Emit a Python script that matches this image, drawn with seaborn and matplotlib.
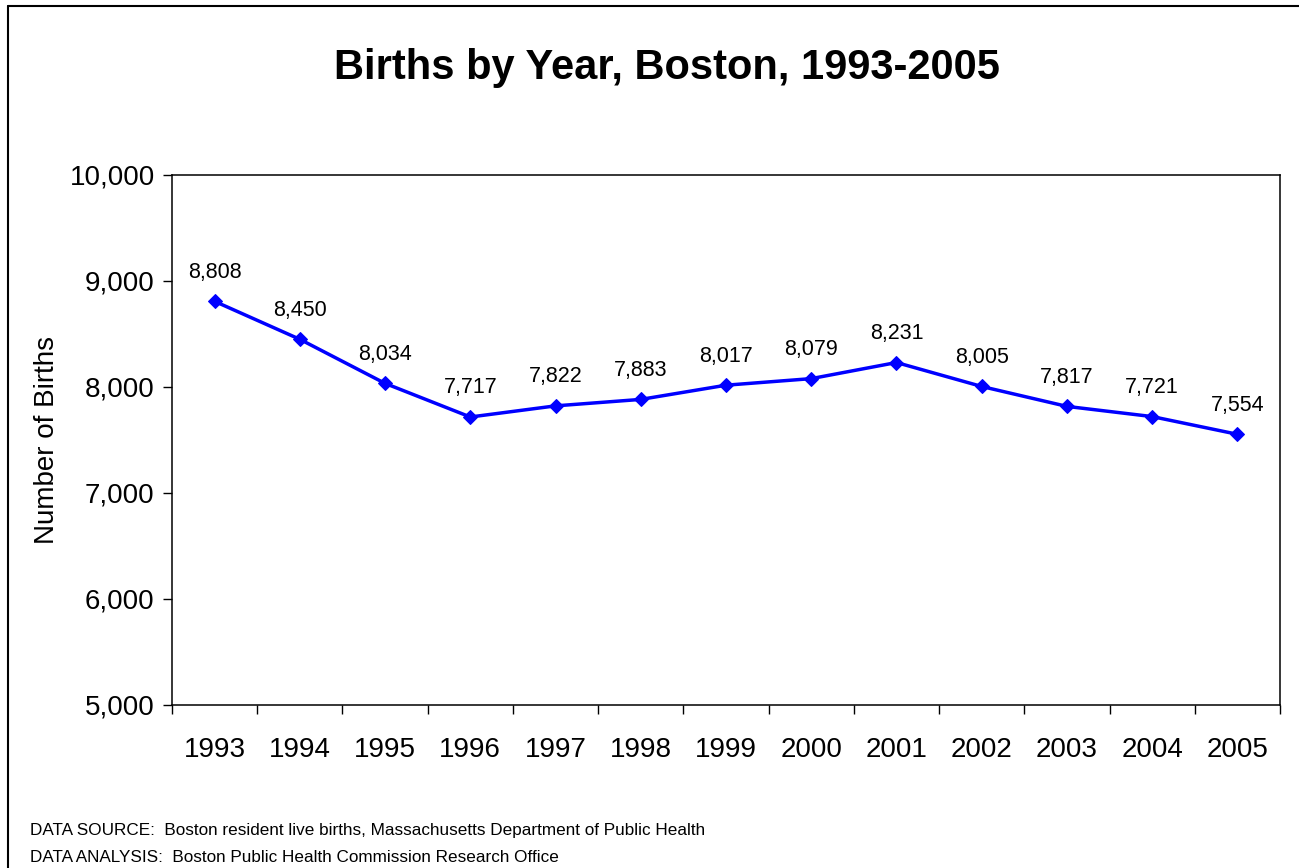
import pandas as pd
import matplotlib.pyplot as plt
from matplotlib.lines import Line2D
from matplotlib.ticker import FuncFormatter, FixedLocator
import seaborn as sns

years = ["1993", "1994", "1995", "1996", "1997", "1998", "1999",
         "2000", "2001", "2002", "2003", "2004", "2005"]
births = [8808, 8450, 8034, 7717, 7822, 7883, 8017, 8079, 8231, 8005, 7817, 7721, 7554]

dataFrame = pd.DataFrame({"Year": years, "Births": births})

sns.set_style("white")
plt.rcParams["font.family"] = ["Liberation Sans", "DejaVu Sans"]
plt.rcParams["text.color"] = "black"
plt.rcParams["axes.labelcolor"] = "black"
plt.rcParams["xtick.color"] = "black"
plt.rcParams["ytick.color"] = "black"

fig = plt.figure(figsize=(12.99, 8.68), dpi=100)
ax = fig.add_axes([172 / 1299, 1 - 705 / 868, 1108 / 1299, 530 / 868])

sns.lineplot(data=dataFrame, x="Year", y="Births", ax=ax, color="#0000FF",
             linewidth=2.5, marker="D", markersize=7, markeredgecolor="#0000FF")

# data labels
for i, v in enumerate(births):
    ax.annotate(f"{v:,}", (i, v), xytext=(0, 29), textcoords="offset pixels",
                ha="center", va="center", fontsize=15.5, color="black")

ax.set_xlim(-0.5, len(years) - 0.5)
ax.set_ylim(5000, 10000)
ax.set_yticks(range(5000, 10001, 1000))
ax.yaxis.set_major_formatter(FuncFormatter(lambda v, p: f"{int(v):,}"))
ax.xaxis.set_minor_locator(FixedLocator([i - 0.5 for i in range(len(years) + 1)]))

ax.tick_params(axis="x", which="major", length=0, pad=23, labelsize=20)
ax.tick_params(axis="x", which="minor", length=6.5, width=1, direction="out", color="black", bottom=True)
ax.tick_params(axis="y", length=6.5, width=1, direction="out", pad=6, labelsize=20, color="black", left=True)

for s in ax.spines.values():
    s.set_color("black")
    s.set_linewidth(1.1)

ax.set_xlabel("")
ax.set_ylabel("Number of Births", fontsize=20, labelpad=7)

fig.text(667 / 1299, 1 - 68 / 868, "Births by Year, Boston, 1993-2005",
         ha="center", va="center", fontsize=30, fontweight="bold")

fig.text(30 / 1299, 1 - 830 / 868,
         "DATA SOURCE:  Boston resident live births, Massachusetts Department of Public Health",
         ha="left", va="center", fontsize=12.3)
fig.text(30 / 1299, 1 - 857 / 868,
         "DATA ANALYSIS:  Boston Public Health Commission Research Office",
         ha="left", va="center", fontsize=12.3)

# outer frame (left and top edges visible)
fig.add_artist(Line2D([8 / 1299, 8 / 1299], [0, 1 - 6 / 868], transform=fig.transFigure,
                      color="black", linewidth=1.5))
fig.add_artist(Line2D([8 / 1299, 1], [1 - 6 / 868, 1 - 6 / 868], transform=fig.transFigure,
                      color="black", linewidth=1.5))

fig.savefig("out.png", dpi=100)
